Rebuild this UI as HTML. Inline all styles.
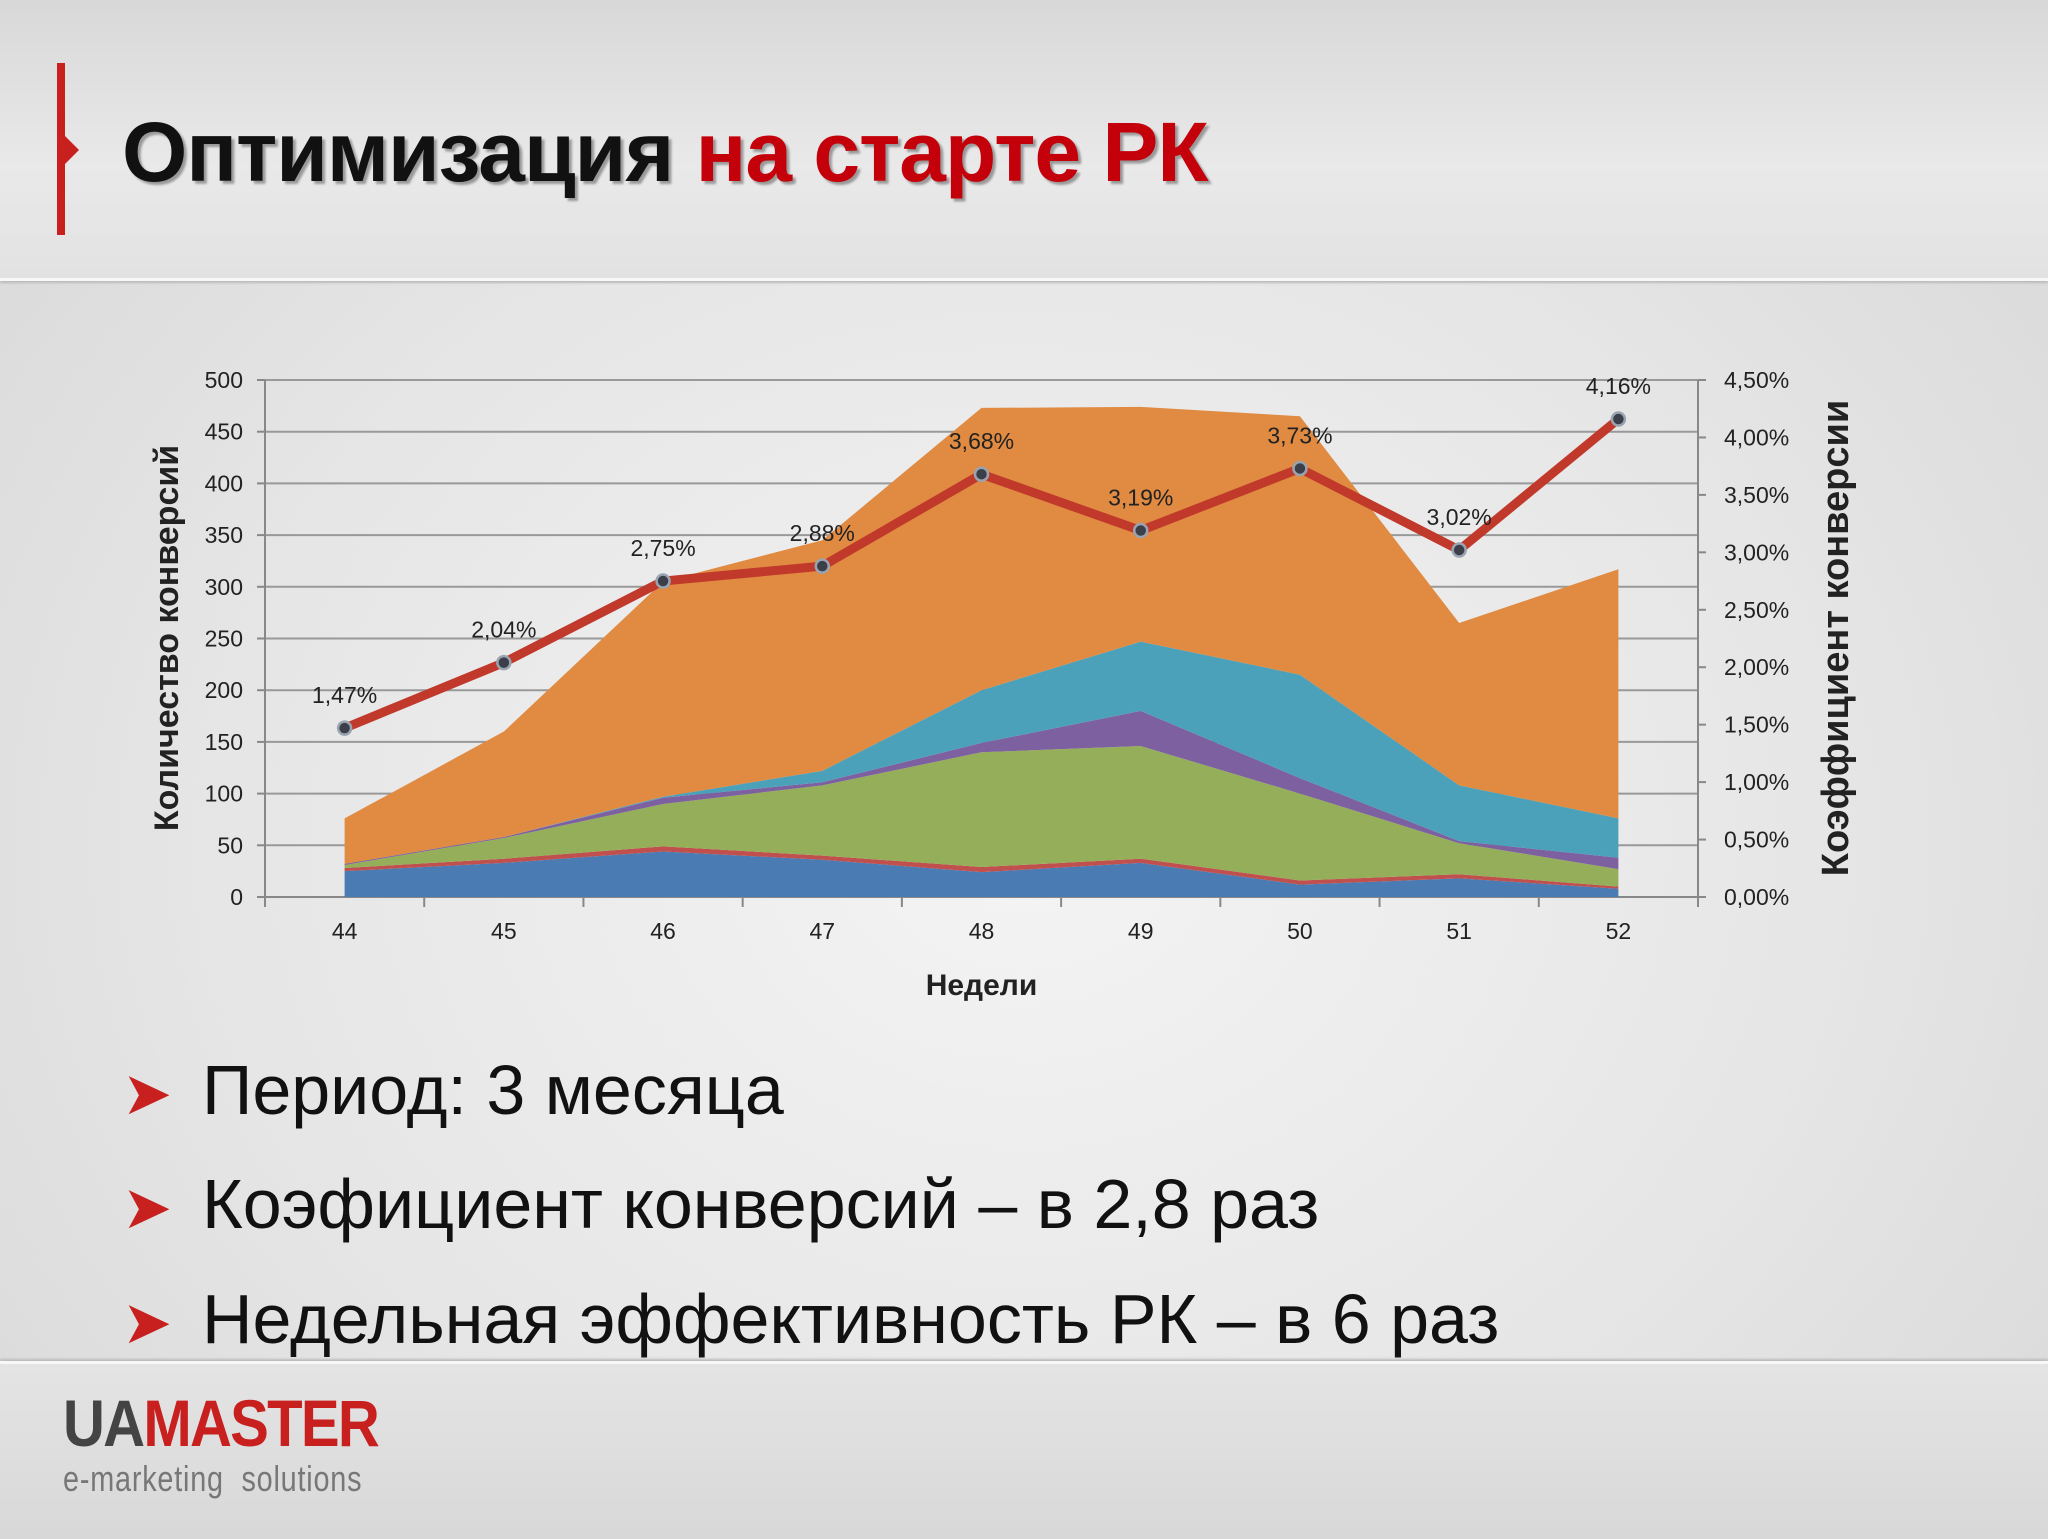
<!DOCTYPE html>
<html><head><meta charset="utf-8">
<style>
html,body{margin:0;padding:0}
body{width:2048px;height:1536px;position:relative;overflow:hidden;font-family:"Liberation Sans","DejaVu Sans",sans-serif;
background:radial-gradient(ellipse at 50% 55%,#f4f4f4 0%,#e6e6e6 55%,#d6d6d6 100%)}
#topband{position:absolute;left:0;top:0;width:2048px;height:278px;background:linear-gradient(#d8d8d8,#e9e9e9 60%,#e2e2e2);border-bottom:3px solid #f8f8f8;box-shadow:0 2px 2px #bbb}
#botband{position:absolute;left:0;top:1361px;width:2048px;height:175px;background:linear-gradient(#e4e4e4,#d8d8d8);border-top:3px solid #f8f8f8;box-shadow:0 -2px 2px #bbb}
#redbar{position:absolute;left:57px;top:63px;width:8px;height:172px;background:#c8201e}
#notch{position:absolute;left:65px;top:136px;width:0;height:0;border-top:14px solid transparent;border-bottom:14px solid transparent;border-left:14px solid #c8201e}
#title{position:absolute;left:122px;top:104px;font-size:84px;font-weight:bold;letter-spacing:-1px;color:#111;text-shadow:3px 3px 2px #999;white-space:nowrap;transform:scaleX(1.0);transform-origin:left}
#title span{color:#c4000a}
.bullet{position:absolute;left:122px;font-size:70px;color:#111;white-space:nowrap}
.bullet .arr{color:#c8201e;font-size:60px;display:inline-block;width:80px}
#logo{position:absolute;left:63px;top:1388px}
#logo .big{font-size:66px;font-weight:bold;letter-spacing:-2px;transform:scaleX(0.88);transform-origin:left;display:block;white-space:nowrap;line-height:70px}
#logo .small{font-size:36px;color:#777;transform:scaleX(0.8);transform-origin:left;display:block;white-space:nowrap;letter-spacing:1px}
</style></head><body>
<div id="topband"></div>
<div id="redbar"></div>
<div id="notch"></div>
<div id="title">Оптимизация <span>на старте РК</span></div>

<svg id="chart" width="2048" height="1536" style="position:absolute;left:0;top:0"></svg>

<div class="bullet" style="top:1050px"><span class="arr">➤</span>Период: 3 месяца</div>
<div class="bullet" style="top:1164px"><span class="arr">➤</span>Коэфициент конверсий – в 2,8 раз</div>
<div class="bullet" style="top:1279px"><span class="arr">➤</span>Недельная эффективность РК – в 6 раз</div>

<div id="botband"></div>
<div id="logo">
<span class="big"><span style="color:#444">UA</span><span style="color:#c8201e">MASTER</span></span>
<span class="small">e-marketing&nbsp; solutions</span>
</div>

<script>
const weeks=["44","45","46","47","48","49","50","51","52"];
const sBlue=[25,33,44,36,24,33,12,18,8];
const sRed=[3,4,5,4,5,4,4,4,2];
const sGreen=[3,20,41,68,111,109,84,30,17];
const sPurple=[1,1,6,3,9,34,15,2,11];
const sTeal=[0,0,1,11,51,67,100,54,38];
const sOrange=[44,102,208,223,273,227,250,157,241];
const rate=[1.47,2.04,2.75,2.88,3.68,3.19,3.73,3.02,4.16];
const leftTicks=[0,50,100,150,200,250,300,350,400,450,500];
const rightTicks=[0,0.5,1,1.5,2,2.5,3,3.5,4,4.5];

const NS="http://www.w3.org/2000/svg";
const svg=document.getElementById('chart');
const X0=265,X1=1698,Y0=897,Y1=380;
const step=(X1-X0)/weeks.length;
const xc=i=>X0+step*(i+0.5);
const yL=v=>Y0-(v/500)*(Y0-Y1);
const yR=v=>Y0-(v/4.5)*(Y0-Y1);
function mk(tag,attrs,parent){const e=document.createElementNS(NS,tag);for(const k in attrs)e.setAttribute(k,attrs[k]);(parent||svg).appendChild(e);return e;}

leftTicks.forEach(t=>{
  const g=mk('line',{x1:X0,x2:X1,y1:yL(t),y2:yL(t),stroke:t===0?'#888':'#999','stroke-width':2});
  
  
  const lb=mk('text',{x:X0-22,y:yL(t)+8,'text-anchor':'end','font-size':23,fill:'#222'});
  lb.textContent=t;
  
  
  mk('line',{x1:X0-8,x2:X0,y1:yL(t),y2:yL(t),stroke:'#888','stroke-width':2});
});
mk('line',{x1:X0,x2:X0,y1:Y1,y2:Y0+8,stroke:'#888','stroke-width':2});
mk('line',{x1:X1,x2:X1,y1:Y1,y2:Y0+8,stroke:'#888','stroke-width':2});
rightTicks.forEach(t=>{
  mk('line',{x1:X1,x2:X1+8,y1:yR(t),y2:yR(t),stroke:'#888','stroke-width':2});
  const lb=mk('text',{x:X1+26,y:yR(t)+8,'font-size':23,fill:'#222'});
  lb.textContent=t.toFixed(2).replace('.',',')+'%';
  
  
});
for(let i=0;i<=weeks.length;i++)mk('line',{x1:X0+step*i,x2:X0+step*i,y1:Y0,y2:Y0+10,stroke:'#888','stroke-width':2});
weeks.forEach((w,i)=>{
  const lb=mk('text',{x:xc(i),y:Y0+42,'text-anchor':'middle','font-size':23,fill:'#222'});
  lb.textContent=w;
  
  
});

const series=[[sBlue,'#4a7bb3','blue'],[sRed,'#c0504d','red'],[sGreen,'#94ae5a','green'],[sPurple,'#7d60a0','purple'],[sTeal,'#4ba1b9','teal'],[sOrange,'#e08a42','orange']];
let base=weeks.map(()=>0);
const areaGroup=mk('g',{});
series.forEach(([vals,col,nm])=>{
  const top=base.map((b,i)=>b+vals[i]);
  let d='M'+xc(0)+','+yL(top[0]);
  for(let i=1;i<top.length;i++)d+=' L'+xc(i)+','+yL(top[i]);
  for(let i=top.length-1;i>=0;i--)d+=' L'+xc(i)+','+yL(base[i]);
  d+='Z';
  const p=mk('path',{d:d,fill:col},areaGroup);
  
  
  base=top;
});

const pts=rate.map((v,i)=>xc(i)+','+yR(v)).join(' ');
const pl=mk('polyline',{points:pts,fill:'none',stroke:'#c0392b','stroke-width':9,'stroke-linejoin':'round'});


rate.forEach((v,i)=>{
  const c=mk('circle',{cx:xc(i),cy:yR(v),r:6.5,fill:'#3a3f4a',stroke:'#9aa3b0','stroke-width':2.5});
  
  
  const t=mk('text',{x:xc(i),y:yR(v)-25,'text-anchor':'middle','font-size':23,fill:'#222'});
  t.textContent=v.toFixed(2).replace('.',',')+'%';
  
  
});

const xt=mk('text',{x:(X0+X1)/2,y:995,'text-anchor':'middle','font-size':30,'font-weight':'bold',fill:'#222'});
xt.textContent='Недели';


const yt=mk('text',{x:0,y:0,'text-anchor':'middle','font-size':34,'font-weight':'bold',fill:'#222',transform:'translate(178,638) rotate(-90)'});
yt.textContent='Количество конверсий';


const yt2=mk('text',{x:0,y:0,'text-anchor':'middle','font-size':38,'font-weight':'bold',fill:'#222',transform:'translate(1848,638) rotate(-90)'});
yt2.textContent='Коэффициент конверсии';


</script>
</body></html>
